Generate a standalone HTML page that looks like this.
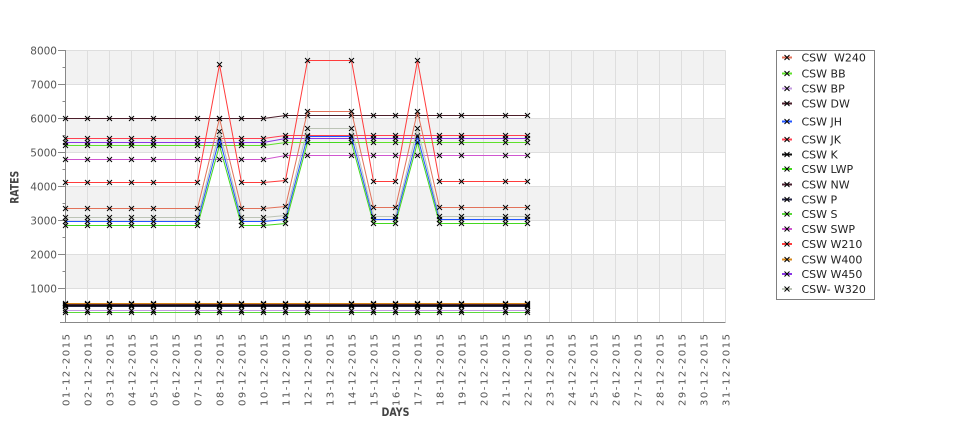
<!DOCTYPE html>
<html><head><meta charset="utf-8"><style>
html,body{margin:0;padding:0;background:#fff;}
svg{display:block;}
text{font-family:"DejaVu Sans","Liberation Sans",sans-serif;}
</style></head><body>
<svg width="975" height="429" viewBox="0 0 975 429" xmlns="http://www.w3.org/2000/svg">
<defs>
<marker id="m" markerWidth="8" markerHeight="8" refX="4" refY="4" markerUnits="userSpaceOnUse" overflow="visible">
<path d="M1.5 1.5L6.5 6.5M6.5 1.5L1.5 6.5" stroke="#000" stroke-width="1" fill="none"/>
</marker>
</defs>
<rect width="975" height="429" fill="#fff"/>
<g fill="#f2f2f2">
<rect x="65.5" y="50.5" width="660" height="34"/>
<rect x="65.5" y="118.5" width="660" height="34"/>
<rect x="65.5" y="186.5" width="660" height="34"/>
<rect x="65.5" y="254.5" width="660" height="34"/>
</g>
<path d="M65.5 50.5H725.5M65.5 84.5H725.5M65.5 118.5H725.5M65.5 152.5H725.5M65.5 186.5H725.5M65.5 220.5H725.5M65.5 254.5H725.5M65.5 288.5H725.5
M87.5 50.5V322M109.5 50.5V322M131.5 50.5V322M153.5 50.5V322M175.5 50.5V322M197.5 50.5V322M219.5 50.5V322M241.5 50.5V322M263.5 50.5V322M285.5 50.5V322M307.5 50.5V322M329.5 50.5V322M351.5 50.5V322M373.5 50.5V322M395.5 50.5V322M417.5 50.5V322M439.5 50.5V322M461.5 50.5V322M483.5 50.5V322M505.5 50.5V322M527.5 50.5V322M549.5 50.5V322M571.5 50.5V322M593.5 50.5V322M615.5 50.5V322M637.5 50.5V322M659.5 50.5V322M681.5 50.5V322M703.5 50.5V322M725.5 50.5V322" stroke="#dedede" stroke-width="1" fill="none"/>
<path d="M65.5 50V322.5M60 322.5H725.5" stroke="#888" stroke-width="1" fill="none"/>
<path d="M58 50.5H65.5M58 84.5H65.5M58 118.5H65.5M58 152.5H65.5M58 186.5H65.5M58 220.5H65.5M58 254.5H65.5M58 288.5H65.5M62.5 67.5H65.5M62.5 101.5H65.5M62.5 135.5H65.5M62.5 169.5H65.5M62.5 203.5H65.5M62.5 237.5H65.5M62.5 271.5H65.5M62.5 305.5H65.5" stroke="#888" stroke-width="1" fill="none"/>
<g font-size="10.5" fill="#555" text-anchor="end">
<text x="57" y="54.5">8000</text>
<text x="57" y="88.5">7000</text>
<text x="57" y="122.5">6000</text>
<text x="57" y="156.5">5000</text>
<text x="57" y="190.5">4000</text>
<text x="57" y="224.5">3000</text>
<text x="57" y="258.5">2000</text>
<text x="57" y="292.5">1000</text>
</g>
<g font-size="10" fill="#555" text-anchor="end">
<text transform="translate(69.5,334) rotate(-90)" textLength="72" lengthAdjust="spacing">01-12-2015</text>
<text transform="translate(91.5,334) rotate(-90)" textLength="72" lengthAdjust="spacing">02-12-2015</text>
<text transform="translate(113.5,334) rotate(-90)" textLength="72" lengthAdjust="spacing">03-12-2015</text>
<text transform="translate(135.5,334) rotate(-90)" textLength="72" lengthAdjust="spacing">04-12-2015</text>
<text transform="translate(157.5,334) rotate(-90)" textLength="72" lengthAdjust="spacing">05-12-2015</text>
<text transform="translate(179.5,334) rotate(-90)" textLength="72" lengthAdjust="spacing">06-12-2015</text>
<text transform="translate(201.5,334) rotate(-90)" textLength="72" lengthAdjust="spacing">07-12-2015</text>
<text transform="translate(223.5,334) rotate(-90)" textLength="72" lengthAdjust="spacing">08-12-2015</text>
<text transform="translate(245.5,334) rotate(-90)" textLength="72" lengthAdjust="spacing">09-12-2015</text>
<text transform="translate(267.5,334) rotate(-90)" textLength="72" lengthAdjust="spacing">10-12-2015</text>
<text transform="translate(289.5,334) rotate(-90)" textLength="72" lengthAdjust="spacing">11-12-2015</text>
<text transform="translate(311.5,334) rotate(-90)" textLength="72" lengthAdjust="spacing">12-12-2015</text>
<text transform="translate(333.5,334) rotate(-90)" textLength="72" lengthAdjust="spacing">13-12-2015</text>
<text transform="translate(355.5,334) rotate(-90)" textLength="72" lengthAdjust="spacing">14-12-2015</text>
<text transform="translate(377.5,334) rotate(-90)" textLength="72" lengthAdjust="spacing">15-12-2015</text>
<text transform="translate(399.5,334) rotate(-90)" textLength="72" lengthAdjust="spacing">16-12-2015</text>
<text transform="translate(421.5,334) rotate(-90)" textLength="72" lengthAdjust="spacing">17-12-2015</text>
<text transform="translate(443.5,334) rotate(-90)" textLength="72" lengthAdjust="spacing">18-12-2015</text>
<text transform="translate(465.5,334) rotate(-90)" textLength="72" lengthAdjust="spacing">19-12-2015</text>
<text transform="translate(487.5,334) rotate(-90)" textLength="72" lengthAdjust="spacing">20-12-2015</text>
<text transform="translate(509.5,334) rotate(-90)" textLength="72" lengthAdjust="spacing">21-12-2015</text>
<text transform="translate(531.5,334) rotate(-90)" textLength="72" lengthAdjust="spacing">22-12-2015</text>
<text transform="translate(553.5,334) rotate(-90)" textLength="72" lengthAdjust="spacing">23-12-2015</text>
<text transform="translate(575.5,334) rotate(-90)" textLength="72" lengthAdjust="spacing">24-12-2015</text>
<text transform="translate(597.5,334) rotate(-90)" textLength="72" lengthAdjust="spacing">25-12-2015</text>
<text transform="translate(619.5,334) rotate(-90)" textLength="72" lengthAdjust="spacing">26-12-2015</text>
<text transform="translate(641.5,334) rotate(-90)" textLength="72" lengthAdjust="spacing">27-12-2015</text>
<text transform="translate(663.5,334) rotate(-90)" textLength="72" lengthAdjust="spacing">28-12-2015</text>
<text transform="translate(685.5,334) rotate(-90)" textLength="72" lengthAdjust="spacing">29-12-2015</text>
<text transform="translate(707.5,334) rotate(-90)" textLength="72" lengthAdjust="spacing">30-12-2015</text>
<text transform="translate(729.5,334) rotate(-90)" textLength="72" lengthAdjust="spacing">31-12-2015</text>
</g>
<text transform="translate(18.5,187.3) rotate(-90)" text-anchor="middle" font-size="11.5" font-weight="bold" fill="#444" textLength="33" lengthAdjust="spacingAndGlyphs">RATES</text>
<text x="395.5" y="416" text-anchor="middle" font-size="11.5" font-weight="bold" fill="#444" textLength="28" lengthAdjust="spacingAndGlyphs">DAYS</text>
<g fill="none" stroke-width="1" marker-start="url(#m)" marker-mid="url(#m)" marker-end="url(#m)">
<polyline stroke="#5ad83a" points="65.5,312.5 87.5,312.5 109.5,312.5 131.5,312.5 153.5,312.5 197.5,312.5 219.5,312.5 241.5,312.5 263.5,312.5 285.5,312.5 307.5,312.5 351.5,312.5 373.5,312.5 395.5,312.5 417.5,312.5 439.5,312.5 461.5,312.5 505.5,312.5 527.5,312.5"/>
<polyline stroke="#c49ae0" points="65.5,310.5 87.5,310.5 109.5,310.5 131.5,310.5 153.5,310.5 197.5,310.5 219.5,310.5 241.5,310.5 263.5,310.5 285.5,310.5 307.5,310.5 351.5,310.5 373.5,310.5 395.5,310.5 417.5,310.5 439.5,310.5 461.5,310.5 505.5,310.5 527.5,310.5"/>
<polyline stroke="#262646" points="65.5,306.5 87.5,306.5 109.5,306.5 131.5,306.5 153.5,306.5 197.5,306.5 219.5,306.5 241.5,306.5 263.5,306.5 285.5,306.5 307.5,306.5 351.5,306.5 373.5,306.5 395.5,306.5 417.5,306.5 439.5,306.5 461.5,306.5 505.5,306.5 527.5,306.5"/>
<polyline stroke="#111111" points="65.5,305.5 87.5,305.5 109.5,305.5 131.5,305.5 153.5,305.5 197.5,305.5 219.5,305.5 241.5,305.5 263.5,305.5 285.5,305.5 307.5,305.5 351.5,305.5 373.5,305.5 395.5,305.5 417.5,305.5 439.5,305.5 461.5,305.5 505.5,305.5 527.5,305.5"/>
<polyline stroke="#4a2030" points="65.5,304.5 87.5,304.5 109.5,304.5 131.5,304.5 153.5,304.5 197.5,304.5 219.5,304.5 241.5,304.5 263.5,304.5 285.5,304.5 307.5,304.5 351.5,304.5 373.5,304.5 395.5,304.5 417.5,304.5 439.5,304.5 461.5,304.5 505.5,304.5 527.5,304.5"/>
<polyline stroke="#d4861a" points="65.5,303.5 87.5,303.5 109.5,303.5 131.5,303.5 153.5,303.5 197.5,303.5 219.5,303.5 241.5,303.5 263.5,303.5 285.5,303.5 307.5,303.5 351.5,303.5 373.5,303.5 395.5,303.5 417.5,303.5 439.5,303.5 461.5,303.5 505.5,303.5 527.5,303.5"/>
<polyline stroke="#4a1e2a" points="65.5,118.5 87.5,118.5 109.5,118.5 131.5,118.5 153.5,118.5 197.5,118.5 219.5,118.5 241.5,118.5 263.5,118.5 285.5,115.5 307.5,115.5 351.5,115.5 373.5,115.5 395.5,115.5 417.5,115.5 439.5,115.5 461.5,115.5 505.5,115.5 527.5,115.5"/>
<polyline stroke="#d056d0" points="65.5,159.5 87.5,159.5 109.5,159.5 131.5,159.5 153.5,159.5 197.5,159.5 219.5,159.5 241.5,159.5 263.5,159.5 285.5,155.5 307.5,155.5 351.5,155.5 373.5,155.5 395.5,155.5 417.5,155.5 439.5,155.5 461.5,155.5 505.5,155.5 527.5,155.5"/>
<polyline stroke="#5ee02a" points="65.5,145.5 87.5,145.5 109.5,145.5 131.5,145.5 153.5,145.5 197.5,145.5 219.5,145.5 241.5,145.5 263.5,145.5 285.5,142.5 307.5,142.5 351.5,142.5 373.5,142.5 395.5,142.5 417.5,142.5 439.5,142.5 461.5,142.5 505.5,142.5 527.5,142.5"/>
<polyline stroke="#8a35e6" points="65.5,142.5 87.5,142.5 109.5,142.5 131.5,142.5 153.5,142.5 197.5,142.5 219.5,142.5 241.5,142.5 263.5,142.5 285.5,138.5 307.5,138.5 351.5,138.5 373.5,138.5 395.5,138.5 417.5,138.5 439.5,138.5 461.5,138.5 505.5,138.5 527.5,138.5"/>
<polyline stroke="#ff4050" points="65.5,138.5 87.5,138.5 109.5,138.5 131.5,138.5 153.5,138.5 197.5,138.5 219.5,138.5 241.5,138.5 263.5,138.5 285.5,135.5 307.5,135.5 351.5,135.5 373.5,135.5 395.5,135.5 417.5,135.5 439.5,135.5 461.5,135.5 505.5,135.5 527.5,135.5"/>
<polyline stroke="#44d81e" points="65.5,225.5 87.5,225.5 109.5,225.5 131.5,225.5 153.5,225.5 197.5,225.5 219.5,145.5 241.5,225.5 263.5,225.5 285.5,223.5 307.5,142.5 351.5,142.5 373.5,223.5 395.5,223.5 417.5,142.5 439.5,223.5 461.5,223.5 505.5,223.5 527.5,223.5"/>
<polyline stroke="#2255ff" points="65.5,221.5 87.5,221.5 109.5,221.5 131.5,221.5 153.5,221.5 197.5,221.5 219.5,138.5 241.5,221.5 263.5,221.5 285.5,219.5 307.5,136.5 351.5,136.5 373.5,219.5 395.5,219.5 417.5,136.5 439.5,219.5 461.5,219.5 505.5,219.5 527.5,219.5"/>
<polyline stroke="#bcc4b6" points="65.5,217.5 87.5,217.5 109.5,217.5 131.5,217.5 153.5,217.5 197.5,217.5 219.5,131.5 241.5,217.5 263.5,217.5 285.5,215.5 307.5,128.5 351.5,128.5 373.5,216.5 395.5,216.5 417.5,128.5 439.5,216.5 461.5,216.5 505.5,216.5 527.5,216.5"/>
<polyline stroke="#e2725a" points="65.5,208.5 87.5,208.5 109.5,208.5 131.5,208.5 153.5,208.5 197.5,208.5 219.5,118.5 241.5,208.5 263.5,208.5 285.5,206.5 307.5,111.5 351.5,111.5 373.5,207.5 395.5,207.5 417.5,111.5 439.5,207.5 461.5,207.5 505.5,207.5 527.5,207.5"/>
<polyline stroke="#ff3c3c" points="65.5,182.5 87.5,182.5 109.5,182.5 131.5,182.5 153.5,182.5 197.5,182.5 219.5,64.5 241.5,182.5 263.5,182.5 285.5,180.5 307.5,60.5 351.5,60.5 373.5,181.5 395.5,181.5 417.5,60.5 439.5,181.5 461.5,181.5 505.5,181.5 527.5,181.5"/>
</g>
<rect x="776.5" y="50.5" width="98" height="249" fill="#fff" stroke="#808080" stroke-width="1"/>
<g stroke-width="2" fill="none">
<path d="M782 57.5H792" stroke="#e2725a"/>
<path d="M782 73.5H792" stroke="#5ee02a"/>
<path d="M782 88.5H792" stroke="#c49ae0"/>
<path d="M782 103.5H792" stroke="#4a1e2a"/>
<path d="M782 121.5H792" stroke="#2255ff"/>
<path d="M782 139.5H792" stroke="#ff4050"/>
<path d="M782 154.5H792" stroke="#111111"/>
<path d="M782 169H792" stroke="#44d81e"/>
<path d="M782 184.5H792" stroke="#4a2030"/>
<path d="M782 199.5H792" stroke="#262646"/>
<path d="M782 214H792" stroke="#5ad83a"/>
<path d="M782 229H792" stroke="#d056d0"/>
<path d="M782 244H792" stroke="#ff3c3c"/>
<path d="M782 259.5H792" stroke="#d4861a"/>
<path d="M782 274H792" stroke="#8a35e6"/>
<path d="M782 289H792" stroke="#bcc4b6"/>
</g>
<g stroke="#000" stroke-width="1" fill="none">
<path d="M784.5 55l5 5m0 -5l-5 5"/>
<path d="M784.5 71l5 5m0 -5l-5 5"/>
<path d="M784.5 86l5 5m0 -5l-5 5"/>
<path d="M784.5 101l5 5m0 -5l-5 5"/>
<path d="M784.5 119l5 5m0 -5l-5 5"/>
<path d="M784.5 137l5 5m0 -5l-5 5"/>
<path d="M784.5 152l5 5m0 -5l-5 5"/>
<path d="M784.5 166.5l5 5m0 -5l-5 5"/>
<path d="M784.5 182l5 5m0 -5l-5 5"/>
<path d="M784.5 197l5 5m0 -5l-5 5"/>
<path d="M784.5 211.5l5 5m0 -5l-5 5"/>
<path d="M784.5 226.5l5 5m0 -5l-5 5"/>
<path d="M784.5 241.5l5 5m0 -5l-5 5"/>
<path d="M784.5 257l5 5m0 -5l-5 5"/>
<path d="M784.5 271.5l5 5m0 -5l-5 5"/>
<path d="M784.5 286.5l5 5m0 -5l-5 5"/>
</g>
<g font-size="11" fill="#222">
<text x="801.5" y="61.5">CSW&#160; W240</text>
<text x="801.5" y="77.5">CSW BB</text>
<text x="801.5" y="92.5">CSW BP</text>
<text x="801.5" y="107.5">CSW DW</text>
<text x="801.5" y="125.5">CSW JH</text>
<text x="801.5" y="143.5">CSW JK</text>
<text x="801.5" y="158.5">CSW K</text>
<text x="801.5" y="173">CSW LWP</text>
<text x="801.5" y="188.5">CSW NW</text>
<text x="801.5" y="203.5">CSW P</text>
<text x="801.5" y="218">CSW S</text>
<text x="801.5" y="233">CSW SWP</text>
<text x="801.5" y="248">CSW W210</text>
<text x="801.5" y="263.5">CSW W400</text>
<text x="801.5" y="278">CSW W450</text>
<text x="801.5" y="293">CSW- W320</text>
</g>
</svg>
</body></html>
